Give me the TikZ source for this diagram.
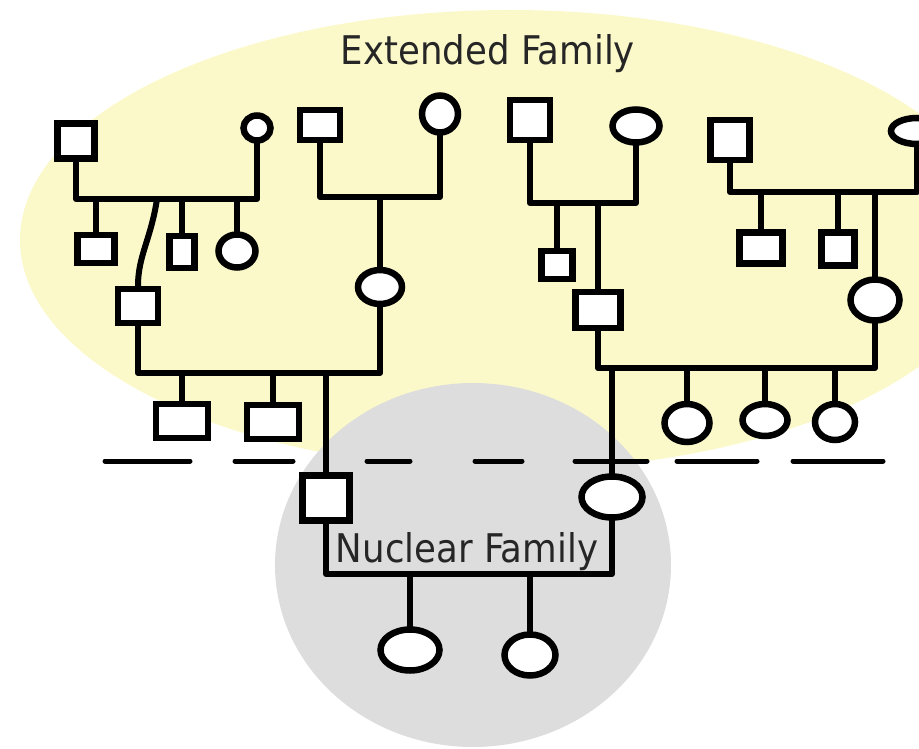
\documentclass[tikz,border=0pt]{standalone}
\usepackage{fontspec}
\setsansfont{DejaVu Sans Condensed}
\usetikzlibrary{shapes.geometric}
\definecolor{extfill}{HTML}{FBF9CA}
\definecolor{nucfill}{HTML}{DDDDDD}
\tikzset{
  male/.style={draw, fill=white, rectangle, line width=6.5pt, inner sep=0pt},
  female/.style={draw, fill=white, ellipse, line width=6.5pt, inner sep=0pt},
  kin/.style={line width=6pt, line cap=round, line join=round},
  famtext/.style={font=\sffamily\fontsize{39.5}{42}\selectfont, text=black!85, anchor=base, inner sep=0pt},
}
\begin{document}
\begin{tikzpicture}[x=1pt,y=-1pt]
    \useasboundingbox (0,0) rectangle (919,749);
    % circles behind
    \fill[extfill] (510,240) ellipse [x radius=490, y radius=230];
    \fill[nucfill] (473,565) ellipse [x radius=198, y radius=182];
    \node[famtext] (ext) at (488,65) {Extended Family};
    % generation line
    \foreach \xa/\xb in {105/190, 235/293, 367/410, 475/522, 575/647, 677/757, 793/883}
        \draw[line width=5pt, line cap=round] (\xa,461) -- (\xb,461);
    % top row
    \node[male, minimum width=37pt, minimum height=35pt] (a) at (76,141) {};
    \node[female, minimum width=27pt, minimum height=25pt] (b) at (257,128) {};
    \node[male, minimum width=40pt, minimum height=30pt] (c) at (320,125) {};
    \node[female, minimum width=36pt, minimum height=37pt] (d) at (440,114) {};
    \node[male, minimum width=40pt, minimum height=40pt] (e) at (530,120) {};
    \node[female, minimum width=47pt, minimum height=33pt] (f) at (636,126) {};
    \node[male, minimum width=39pt, minimum height=40pt] (g) at (730,140) {};
    \node[female, minimum width=52pt, minimum height=26pt] (h) at (917,131) {};
    % second row
    \node[male, minimum width=37pt, minimum height=28pt] (ab1) at (96,249) {};
    \node[male, minimum width=25pt, minimum height=32pt] (ab2) at (182,252) {};
    \node[female, minimum width=37pt, minimum height=33pt] (ab3) at (237,251) {};
    \node[male, minimum width=40pt, minimum height=34pt] (i) at (138,306) {};
    \node[female, minimum width=44pt, minimum height=34pt] (j) at (380,287) {};
    \node[male, minimum width=31pt, minimum height=28pt] (ef1) at (557,265) {};
    \node[male, minimum width=45pt, minimum height=36pt] (l) at (598,310) {};
    \node[male, minimum width=43pt, minimum height=31pt] (gh1) at (761,248) {};
    \node[male, minimum width=33pt, minimum height=33pt] (gh2) at (838,249) {};
    \node[female, minimum width=49pt, minimum height=41pt] (m) at (875,300) {};
    % third row
    \node[male, minimum width=52pt, minimum height=34pt] (ij1) at (182,421) {};
    \node[male, minimum width=52pt, minimum height=34pt] (ij2) at (273,422) {};
    \node[female, minimum width=45pt, minimum height=38pt] (lm1) at (687,423) {};
    \node[female, minimum width=45pt, minimum height=32pt] (lm2) at (765,420) {};
    \node[female, minimum width=40pt, minimum height=36pt] (lm3) at (835,422) {};
    % nuclear family
    \node[male, minimum width=47pt, minimum height=45pt] (p) at (326,498) {};
    \node[female, minimum width=61pt, minimum height=41pt] (q) at (612,497) {};
    \node[female, minimum width=59pt, minimum height=41pt] (pq1) at (410,650) {};
    \node[female, minimum width=51pt, minimum height=41pt] (pq2) at (530,655) {};
    % couples
    \coordinate (uab) at (160,199);
    \coordinate (ucd) at (380,197);
    \coordinate (uef) at (580,203);
    \coordinate (ugh) at (820,192);
    \coordinate (uij) at (250,373);
    \coordinate (ulm) at (730,368);
    \coordinate (upq) at (470,574);
    \draw[kin] (a.south) |- (uab) -| (b.south);
    \draw[kin] (c.south) |- (ucd) -| (d.south);
    \draw[kin] (e.south) |- (uef) -| (f.south);
    \draw[kin] (g.south) |- (ugh) -| (h.south);
    \draw[kin] (i.south) |- (uij) -| (j.south);
    \draw[kin] (l.south) |- (ulm) -| (m.south);
    \draw[kin] (p.south) |- (upq) -| (q.south);
    % children
    \foreach \kid in {ab1, ab2, ab3}
        \draw[kin] (\kid.north |- uab) -- (\kid.north);
    \draw[kin] ([xshift=19pt]i.north |- uab) .. controls +(-6,40) and +(0,-30) .. (i.north);
    \draw[kin] (j.north |- ucd) -- (j.north);
    \foreach \kid in {ef1, l}
        \draw[kin] (\kid.north |- uef) -- (\kid.north);
    \foreach \kid in {gh1, gh2, m}
        \draw[kin] (\kid.north |- ugh) -- (\kid.north);
    \foreach \kid in {ij1, ij2, p}
        \draw[kin] (\kid.north |- uij) -- (\kid.north);
    \foreach \kid in {lm1, lm2, lm3, q}
        \draw[kin] (\kid.north |- ulm) -- (\kid.north);
    \foreach \kid in {pq1, pq2}
        \draw[kin] (\kid.north |- upq) -- (\kid.north);
    \node[famtext] (nuc) at (467,562) {Nuclear Family};
\end{tikzpicture}
\end{document}
